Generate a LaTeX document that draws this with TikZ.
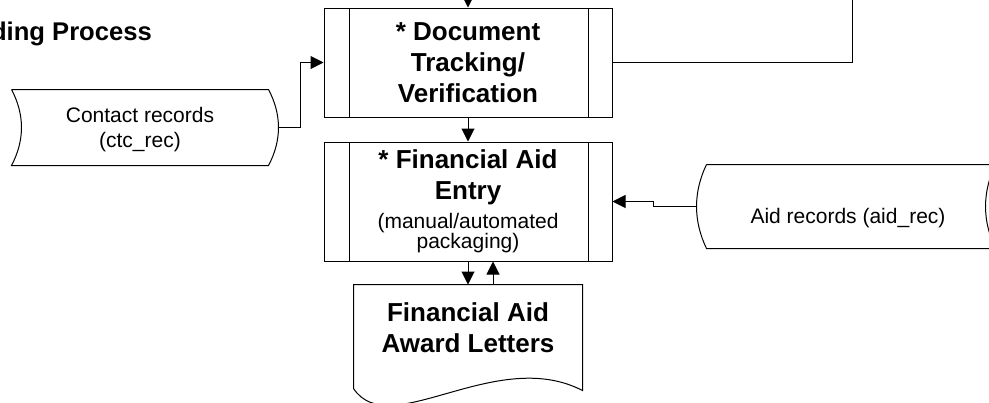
\documentclass[tikz,border=0pt]{standalone}
\usepackage{fontspec}
\setmainfont{Liberation Sans}
\usetikzlibrary{arrows.meta,positioning}
\tikzset{
  arr/.style={-{Triangle[length=6.5pt,width=6.5pt]}},
  procbox/.style={draw, minimum width=144pt, align=center, inner sep=0pt,
    font=\fontsize{13}{15.5}\selectfont\bfseries,
    path picture={\draw ([xshift=12.5pt]path picture bounding box.north west) -- ([xshift=12.5pt]path picture bounding box.south west)
      ([xshift=-12pt]path picture bounding box.north east) -- ([xshift=-12pt]path picture bounding box.south east);}},
  datanode/.style={align=center, inner sep=0pt, font=\fontsize{10.5}{12.5}\selectfont},
  docnode/.style={minimum width=114pt, minimum height=51.5pt, align=center, inner sep=0pt,
    text depth=8.5pt, font=\fontsize{13}{15.5}\selectfont\bfseries}
}
\begin{document}
\begin{tikzpicture}[x=0.5pt, y=-0.5pt, line width=0.5pt]
\useasboundingbox (0,0) rectangle (989,402);
\node[font=\fontsize{12.8}{15}\selectfont\bfseries, anchor=base east] (title) at (159,40.5) {ding Process};
\node[procbox, minimum height=54.5pt] (doc) at (468,62.5) {* Document\\Tracking/\\Verification};
\node[procbox, minimum height=59.5pt] (entry) at (468,201.5) {* Financial Aid\\Entry\\[-1pt]{\fontsize{10.5}{10.5}\selectfont\mdseries (manual/automated}\\[-5.25pt]{\fontsize{10.5}{10.5}\selectfont\mdseries packaging)}};
\node[docnode] (letters) at (468,336.5) {Financial Aid\\Award Letters};
\node[datanode, minimum width=128pt, minimum height=37.5pt, text height=22.5pt, text depth=2.5pt] (ctc) at (140,127.5) {Contact records\\(ctc\_rec)};
\node[datanode, minimum width=144pt, minimum height=41.5pt, text height=19pt, text depth=2.5pt] (aid) at (848,206.5) {Aid records (aid\_rec)};
\coordinate (in) at (468,-20);
\coordinate (out) at (852,-20);
\draw (ctc.north west) -- (ctc.north east) .. controls +(6.65pt,-12.5pt) and +(6.65pt,12.5pt) .. (ctc.south east) -- (ctc.south west) .. controls +(6.65pt,12.5pt) and +(6.65pt,-12.5pt) .. (ctc.north west);
\draw ([xshift=1.5pt]aid.north west) -- ([xshift=1.5pt]aid.north east) .. controls +(-6.65pt,-13.83pt) and +(-6.65pt,13.83pt) .. ([xshift=1.5pt]aid.south east) -- ([xshift=1.5pt]aid.south west) .. controls +(-6.65pt,13.83pt) and +(-6.65pt,-13.83pt) .. ([xshift=1.5pt]aid.north west);
\draw (letters.south west) -- (letters.north west) -- (letters.north east) -- ([yshift=-1pt]letters.south east) .. controls +(-43.5pt,22.5pt) and +(18pt,-27pt) .. (letters.south west) -- cycle;
\draw[arr] (in) -- (doc.north);
\draw (doc.east) -| (out);
\draw[arr] ([xshift=5pt]ctc.east) -- ++(11pt,0pt) |- (doc.west);
\draw[arr] (doc.south) -- (entry.north);
\draw[arr] ([xshift=-3.5pt]aid.west) -- ++(-21.5pt,0pt) |- (entry.east);
\draw[arr] (entry.south) -- (letters.north);
\draw[arr] ([xshift=12.5pt]letters.north) -- ([xshift=12.5pt]entry.south);
\end{tikzpicture}
\end{document}
